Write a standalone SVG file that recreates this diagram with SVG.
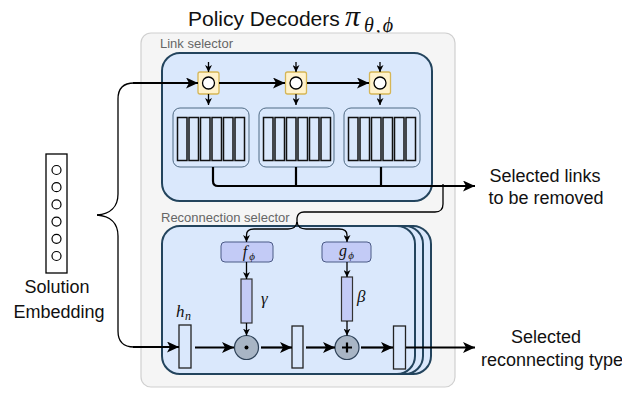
<svg xmlns="http://www.w3.org/2000/svg" width="622" height="394" viewBox="0 0 622 394">
<style>
.t{font-family:"Liberation Sans",Arial,sans-serif;fill:#111}
.gl{font-family:"Liberation Sans",Arial,sans-serif;fill:#666;font-size:13px}
.m{font-family:"Liberation Serif","Times New Roman",serif;font-style:italic;fill:#111}
.blue{fill:#dae8fc;stroke:#23445d;stroke-width:2}
.inner{fill:#dae8fc;stroke:#4f6a84;stroke-width:1}
.bar{fill:#dae8fc;stroke:#222;stroke-width:1.3}
.sbar{fill:#dae8fc;stroke:#111;stroke-width:1.5}
.pbar{fill:#c3cbf6;stroke:#333;stroke-width:1.2}
.pbox{fill:#c3cbf6;stroke:#4b5a86;stroke-width:1}
.cell{fill:#fff2cc;stroke:#d6b656;stroke-width:1.3}
.op{fill:#a8b5c5;stroke:#2e4258;stroke-width:1.2}
.thick{fill:none;stroke:#000;stroke-width:2.2}
.thin{fill:none;stroke:#000;stroke-width:1.3}
</style>
<defs>
<marker id="ah" markerUnits="userSpaceOnUse" markerWidth="13" markerHeight="11" refX="12" refY="5.5" orient="auto">
<path d="M0,0 L12,5.5 L0,11 L3,5.5 z" fill="#000"/>
</marker>
<marker id="as" markerUnits="userSpaceOnUse" markerWidth="8" markerHeight="7" refX="7" refY="3.5" orient="auto">
<path d="M0,0 L7,3.5 L0,7 L2,3.5 z" fill="#000"/>
</marker>
</defs>

<g id="title">
<text class="t" x="188" y="26" font-size="21">Policy Decoders</text>
<text class="m" x="345" y="26" font-size="30">π</text>
<text class="m" x="364" y="32" font-size="20" letter-spacing="2">θ,ϕ</text>
</g>

<g id="decoders">
<rect x="141" y="33" width="314" height="354" rx="10" fill="#f5f5f5" stroke="#d0d0d0" stroke-width="1.2"/>
</g>

<g id="link-selector">
<text class="gl" x="160" y="48">Link selector</text>
<rect class="blue" x="162" y="53" width="270" height="148" rx="18"/>
<rect class="cell" x="198" y="72" width="21" height="22" rx="2"/>
<circle cx="208.5" cy="83" r="6" fill="#fff" stroke="#000" stroke-width="1.3"/>
<rect class="cell" x="285.5" y="72" width="21" height="22" rx="2"/>
<circle cx="296" cy="83" r="6" fill="#fff" stroke="#000" stroke-width="1.3"/>
<rect class="cell" x="369.5" y="72" width="21" height="22" rx="2"/>
<circle cx="380" cy="83" r="6" fill="#fff" stroke="#000" stroke-width="1.3"/>
<rect class="inner" x="173" y="108" width="76" height="59" rx="7"/>
<rect class="inner" x="259" y="108" width="75" height="59" rx="7"/>
<rect class="inner" x="344" y="108" width="76" height="59" rx="7"/>
<g>
<rect class="sbar" x="177.5" y="117.5" width="9.5" height="43"/>
<rect class="sbar" x="189" y="117.5" width="9.5" height="43"/>
<rect class="sbar" x="200.5" y="117.5" width="9.5" height="43"/>
<rect class="sbar" x="212" y="117.5" width="9.5" height="43"/>
<rect class="sbar" x="223.5" y="117.5" width="9.5" height="43"/>
<rect class="sbar" x="235" y="117.5" width="9.5" height="43"/>
</g>
<g>
<rect class="sbar" x="263.5" y="117.5" width="9.5" height="43"/>
<rect class="sbar" x="275" y="117.5" width="9.5" height="43"/>
<rect class="sbar" x="286.5" y="117.5" width="9.5" height="43"/>
<rect class="sbar" x="298" y="117.5" width="9.5" height="43"/>
<rect class="sbar" x="309.5" y="117.5" width="9.5" height="43"/>
<rect class="sbar" x="321" y="117.5" width="9.5" height="43"/>
</g>
<g>
<rect class="sbar" x="348.5" y="117.5" width="9.5" height="43"/>
<rect class="sbar" x="360" y="117.5" width="9.5" height="43"/>
<rect class="sbar" x="371.5" y="117.5" width="9.5" height="43"/>
<rect class="sbar" x="383" y="117.5" width="9.5" height="43"/>
<rect class="sbar" x="394.5" y="117.5" width="9.5" height="43"/>
<rect class="sbar" x="406" y="117.5" width="9.5" height="43"/>
</g>
</g>

<g id="reconnection-selector">
<text class="gl" x="161" y="222">Reconnection selector</text>
<rect class="blue" x="178" y="226" width="253" height="148" rx="18"/>
<rect class="blue" x="170" y="226" width="253" height="148" rx="18"/>
<rect class="blue" x="162" y="226" width="253" height="148" rx="18"/>
<rect class="pbox" x="221" y="242" width="52" height="20" rx="4"/>
<text class="m" x="245" y="257" font-size="16" text-anchor="middle">f</text>
<text class="m" x="252" y="260" font-size="11" text-anchor="middle">ϕ</text>
<rect class="pbox" x="322" y="242" width="49" height="20" rx="4"/>
<text class="m" x="343" y="256" font-size="16" text-anchor="middle">g</text>
<text class="m" x="351" y="259" font-size="11" text-anchor="middle">ϕ</text>
<rect class="pbar" x="241" y="279" width="11" height="44"/>
<rect class="pbar" x="341.5" y="277" width="11" height="44"/>
<text class="m" x="261" y="304" font-size="17">γ</text>
<text class="m" x="357" y="302" font-size="17">β</text>
<rect class="bar" x="179" y="325" width="12" height="43"/>
<text class="m" x="176" y="317" font-size="17">h</text>
<text class="m" x="185" y="320" font-size="12">n</text>
<circle class="op" cx="246.5" cy="347.5" r="12"/>
<circle cx="246.5" cy="347.5" r="2" fill="#000"/>
<rect class="bar" x="292" y="326" width="11" height="42"/>
<circle class="op" cx="347" cy="347.5" r="12"/>
<path d="M342,347.5 L352,347.5 M347,342.5 L347,352.5" stroke="#000" stroke-width="2.2"/>
<rect class="bar" x="393.5" y="326" width="12" height="43"/>
</g>

<g id="solution-embedding">
<rect x="46" y="154" width="21" height="119" fill="#fff" stroke="#000" stroke-width="1.3"/>
<circle cx="56.5" cy="170" r="4.5" fill="#fff" stroke="#000" stroke-width="1.2"/>
<circle cx="56.5" cy="187.2" r="4.5" fill="#fff" stroke="#000" stroke-width="1.2"/>
<circle cx="56.5" cy="204.4" r="4.5" fill="#fff" stroke="#000" stroke-width="1.2"/>
<circle cx="56.5" cy="221.6" r="4.5" fill="#fff" stroke="#000" stroke-width="1.2"/>
<circle cx="56.5" cy="238.8" r="4.5" fill="#fff" stroke="#000" stroke-width="1.2"/>
<circle cx="56.5" cy="256" r="4.5" fill="#fff" stroke="#000" stroke-width="1.2"/>
<text class="t" x="57" y="293" font-size="18" text-anchor="middle">Solution</text>
<text class="t" x="59" y="318" font-size="18" text-anchor="middle">Embedding</text>
</g>

<g id="output-links">
<text class="t" x="545" y="182" font-size="18" text-anchor="middle">Selected links</text>
<text class="t" x="546" y="204" font-size="18" text-anchor="middle">to be removed</text>
</g>

<g id="output-type">
<text class="t" x="546" y="343" font-size="18" text-anchor="middle">Selected</text>
<text class="t" x="552" y="366" font-size="18" text-anchor="middle">reconnecting type</text>
</g>

<g id="connectors">
<path class="thin" d="M97,215 C110,214 118,207 118,194 L118,99 C118,88 124,83 134,83"/>
<path class="thin" d="M97,215 C110,216 118,223 118,236 L118,331 C118,342 124,347 134,347"/>
<path class="thick" d="M133,83 L198,83" marker-end="url(#ah)"/>
<path class="thick" d="M133,347 L179,347" marker-end="url(#ah)"/>
<path class="thick" d="M219,83 L285,83" marker-end="url(#ah)"/>
<path class="thick" d="M307,83 L369,83" marker-end="url(#ah)"/>
<path class="thin" d="M208.5,62 L208.5,72" marker-end="url(#as)"/>
<path class="thin" d="M296,62 L296,72" marker-end="url(#as)"/>
<path class="thin" d="M380,62 L380,72" marker-end="url(#as)"/>
<path class="thin" d="M208.5,94 L208.5,105" marker-end="url(#as)"/>
<path class="thin" d="M296,94 L296,105" marker-end="url(#as)"/>
<path class="thin" d="M380,94 L380,105" marker-end="url(#as)"/>
<path class="thick" d="M213,167 L213,181 Q213,186 218,186 L475,186" marker-end="url(#ah)"/>
<path class="thick" d="M296,167 L296,186 M381,167 L381,186"/>
<path class="thin" d="M443,184 L443,204 Q443,212 435,212 L304,212 Q298,212 297,218 L297,223"/>
<path class="thin" d="M297,222 Q296,229 288,229 L254,229 Q246.5,229 246.5,235 L246.5,242" marker-end="url(#as)"/>
<path class="thin" d="M297,222 Q298,229 306,229 L339,229 Q347,229 347,235 L347,242" marker-end="url(#as)"/>
<path class="thin" d="M246.5,262 L246.5,279" marker-end="url(#as)"/>
<path class="thin" d="M246.5,323 L246.5,335.5" marker-end="url(#as)"/>
<path class="thin" d="M347,262 L347,277" marker-end="url(#as)"/>
<path class="thin" d="M347,321 L347,335.5" marker-end="url(#as)"/>
<path class="thick" d="M195,347.5 L234,347.5" marker-end="url(#ah)"/>
<path class="thick" d="M261,347.5 L292,347.5" marker-end="url(#ah)"/>
<path class="thick" d="M306,347.5 L335,347.5" marker-end="url(#ah)"/>
<path class="thick" d="M361,347.5 L393,347.5" marker-end="url(#ah)"/>
<path class="thick" d="M406,347.5 L475,347.5" marker-end="url(#ah)"/>
</g>
</svg>
